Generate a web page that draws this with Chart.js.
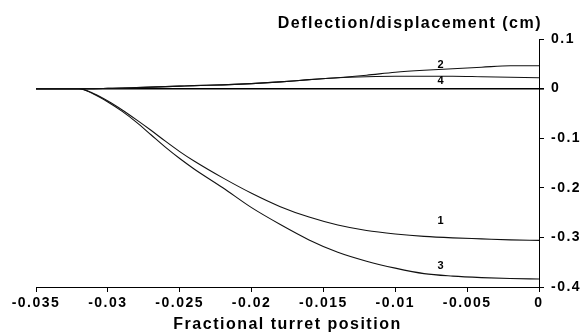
<!DOCTYPE html>
<html>
<head>
<meta charset="utf-8">
<script src="https://cdn.jsdelivr.net/npm/chart.js@4/dist/chart.umd.min.js"></script>
<style>
  html, body { margin: 0; padding: 0; background: #fff; }
</style>
</head>
<body>
<canvas id="turret-chart" width="585" height="335"></canvas>
<script>
const xPos = [-0.035, -0.032, -0.031, -0.03, -0.029, -0.028, -0.027, -0.026, -0.025, -0.024,
    -0.022, -0.02, -0.018, -0.016, -0.014, -0.012, -0.01, -0.008, -0.006, -0.004, -0.002, 0];

const curve1 = [0, 0, -0.010, -0.025, -0.043, -0.063, -0.084, -0.106, -0.127, -0.146,
    -0.180, -0.211, -0.238, -0.259, -0.275, -0.286, -0.293, -0.298, -0.301, -0.303, -0.305, -0.306];
const curve2 = [0, 0, 0, 0.0005, 0.001, 0.002, 0.003, 0.004, 0.005, 0.006,
    0.0075, 0.010, 0.0135, 0.018, 0.022, 0.027, 0.033, 0.037, 0.040, 0.043, 0.046, 0.046];
const curve3 = [0, 0, -0.011, -0.027, -0.046, -0.068, -0.093, -0.118, -0.141, -0.162,
    -0.200, -0.240, -0.274, -0.305, -0.330, -0.348, -0.362, -0.373, -0.378, -0.381, -0.383, -0.384];
const curve4 = [0, 0, 0, 0.0005, 0.001, 0.002, 0.003, 0.004, 0.005, 0.006,
    0.0075, 0.010, 0.0135, 0.018, 0.022, 0.024, 0.025, 0.025, 0.025, 0.024, 0.023, 0.022];

const xTicks = [-0.035, -0.03, -0.025, -0.02, -0.015, -0.01, -0.005, 0];
const yTicks = [0.1, 0, -0.1, -0.2, -0.3, -0.4];

const curveNames = ['1', '2', '3', '4'];
const nameX = [-0.0068, -0.0068, -0.0068, -0.0068];
const nameY = [-0.266, 0.047, -0.358, 0.016];

const toPoints = ys => xPos.map((x, i) => ({ x: x, y: ys[i] }));

const fontFamily = '"Liberation Sans", Arial, sans-serif';

// spaced-out lettering like the typeset original
const spacing = {
    id: 'spacing',
    beforeUpdate(chart) { chart.ctx.letterSpacing = '1.5px'; },
    beforeLayout(chart) { chart.ctx.letterSpacing = '1.5px'; },
    beforeDraw(chart) { chart.ctx.letterSpacing = '1.5px'; }
};

const curveLabels = {
    id: 'curveLabels',
    afterDatasetsDraw(chart) {
        const ctx = chart.ctx;
        const xs = chart.scales.x, ys = chart.scales.y;
        ctx.save();
        ctx.fillStyle = '#000';
        ctx.font = 'bold 11px ' + fontFamily;
        ctx.textAlign = 'center';
        ctx.textBaseline = 'middle';
        curveNames.forEach((n, i) => {
            ctx.fillText(n, xs.getPixelForValue(nameX[i]), ys.getPixelForValue(nameY[i]));
        });
        ctx.restore();
    }
};

const yTitle = {
    id: 'yTitle',
    afterDraw(chart) {
        const ctx = chart.ctx;
        const area = chart.chartArea;
        ctx.save();
        ctx.fillStyle = '#000';
        ctx.font = 'bold 16px ' + fontFamily;
        ctx.textAlign = 'right';
        ctx.textBaseline = 'middle';
        ctx.fillText('Deflection/displacement (cm)', area.right + 3, area.top - 15);
        ctx.restore();
    }
};

const lineStyle = {
    borderColor: '#111',
    borderWidth: 1.1,
    pointRadius: 0,
    cubicInterpolationMode: 'monotone',
    fill: false
};

new Chart(document.getElementById('turret-chart'), {
    type: 'line',
    data: {
        datasets: [
            Object.assign({ label: '1', data: toPoints(curve1) }, lineStyle),
            Object.assign({ label: '2', data: toPoints(curve2) }, lineStyle),
            Object.assign({ label: '3', data: toPoints(curve3) }, lineStyle),
            Object.assign({ label: '4', data: toPoints(curve4) }, lineStyle)
        ]
    },
    options: {
        responsive: false,
        devicePixelRatio: 1,
        animation: false,
        layout: { padding: { top: 39, left: 36, right: 0, bottom: 0 } },
        plugins: {
            legend: { display: false },
            tooltip: { enabled: false }
        },
        scales: {
            x: {
                type: 'linear',
                min: -0.035,
                max: 0,
                afterBuildTicks: s => { s.ticks = xTicks.map(v => ({ value: v })); },
                afterFit: s => { s.height = 48; },
                ticks: {
                    color: '#000',
                    padding: 3,
                    maxRotation: 0,
                    font: { family: fontFamily, size: 14, weight: 'bold' },
                    callback: v => Math.abs(v) < 1e-9 ? '0' : String(Number(v.toFixed(3)))
                },
                grid: { drawOnChartArea: false, tickColor: '#000', tickLength: 5 },
                border: { display: true, color: '#000', width: 1 },
                title: {
                    display: true,
                    text: 'Fractional turret position',
                    color: '#000',
                    font: { family: fontFamily, size: 16, weight: 'bold' },
                    padding: { top: 0, bottom: 1 }
                }
            },
            y: {
                position: 'right',
                min: -0.4,
                max: 0.1,
                afterBuildTicks: s => { s.ticks = yTicks.map(v => ({ value: v })); },
                afterFit: s => { s.width = 46; },
                ticks: {
                    color: '#000',
                    padding: 7,
                    font: { family: fontFamily, size: 14, weight: 'bold' },
                    callback: v => Math.abs(v) < 1e-9 ? '0' : v.toFixed(1)
                },
                grid: {
                    drawOnChartArea: true,
                    color: c => (c.tick && Math.abs(c.tick.value) < 1e-9) ? '#000' : 'rgba(0,0,0,0)',
                    lineWidth: c => (c.tick && Math.abs(c.tick.value) < 1e-9) ? 1.6 : 1,
                    tickColor: '#000',
                    tickLength: 5
                },
                border: { display: true, color: '#000', width: 1 }
            }
        }
    },
    plugins: [spacing, curveLabels, yTitle]
});
</script>
</body>
</html>
